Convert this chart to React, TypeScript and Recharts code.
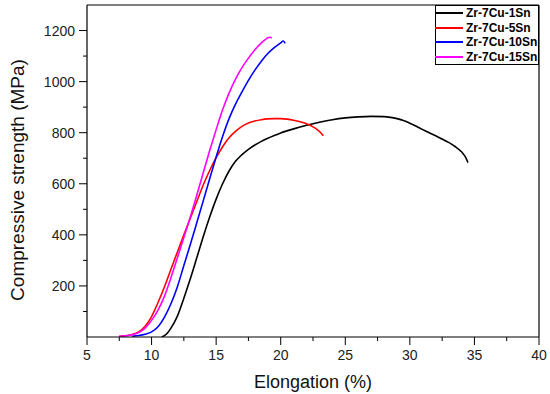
import React from 'react';
import { LineChart, Line, XAxis, YAxis, Legend, ReferenceLine, Label } from 'recharts';

// values (strain %, stress MPa)
const sn1Strain = [10.8, 11.2, 11.5, 12.0, 12.5, 13.0, 13.5, 14.0, 14.5, 15.0, 15.5, 16.0, 16.5, 17.0, 17.5, 18.0, 18.5, 19.0, 19.5, 20.0, 21.0, 22.0, 23.0, 24.0, 25.0, 26.0, 27.0, 28.0, 28.5, 29.0, 29.5, 30.0, 30.5, 31.0, 31.5, 32.0, 32.5, 33.0, 33.5, 34.0, 34.3, 34.5];
const sn1Stress = [0, 14, 35, 82, 152, 228, 310, 393, 470, 540, 600, 650, 688, 714, 735, 752, 766, 778, 789, 799, 815, 829, 841, 851, 858, 862, 864, 863, 860, 855, 848, 837, 825, 812, 800, 788, 775, 762, 746, 725, 705, 683];

const sn5Strain = [7.5, 8.0, 8.5, 9.0, 9.5, 10.0, 10.5, 11.0, 11.5, 12.0, 12.5, 13.0, 13.5, 14.0, 14.5, 15.0, 15.5, 16.0, 16.5, 17.0, 17.5, 18.0, 18.5, 19.0, 19.5, 20.0, 20.5, 21.0, 21.5, 22.0, 22.5, 22.8, 23.1, 23.3];
const sn5Stress = [3, 5, 10, 20, 42, 80, 135, 197, 265, 333, 400, 465, 530, 595, 652, 702, 745, 780, 805, 825, 838, 846, 851, 854, 855, 855, 853, 849, 843, 835, 823, 813, 800, 788];

const sn10Strain = [8.5, 9.0, 9.5, 10.0, 10.5, 11.0, 11.5, 12.0, 12.5, 13.0, 13.5, 14.0, 14.5, 15.0, 15.5, 16.0, 16.5, 17.0, 17.5, 18.0, 18.5, 19.0, 19.5, 20.0, 20.2, 20.35];
const sn10Stress = [3, 6, 11, 20, 40, 78, 130, 197, 280, 362, 447, 533, 620, 705, 785, 855, 912, 960, 1005, 1045, 1080, 1110, 1133, 1152, 1159, 1150];

const sn15Strain = [7.5, 8.0, 8.5, 9.0, 9.5, 10.0, 10.5, 11.0, 11.5, 12.0, 12.5, 13.0, 13.5, 14.0, 14.5, 15.0, 15.5, 16.0, 16.5, 17.0, 17.5, 18.0, 18.5, 18.8, 19.0, 19.2, 19.3];
const sn15Stress = [3, 5, 9, 17, 35, 65, 105, 160, 232, 310, 390, 470, 555, 643, 730, 812, 890, 955, 1010, 1055, 1092, 1125, 1152, 1164, 1172, 1174, 1170];

const xTicks = [5, 7.5, 10, 12.5, 15, 17.5, 20, 22.5, 25, 27.5, 30, 32.5, 35, 37.5, 40];
const yTicks = [100, 200, 300, 400, 500, 600, 700, 800, 900, 1000, 1100, 1200];

const toPoints = (xs: number[], ys: number[]) => xs.map((x, i) => ({ x, y: ys[i] }));

const series = [
  { name: 'Zr-7Cu-1Sn', color: '#000000', data: toPoints(sn1Strain, sn1Stress) },
  { name: 'Zr-7Cu-5Sn', color: '#ff0000', data: toPoints(sn5Strain, sn5Stress) },
  { name: 'Zr-7Cu-10Sn', color: '#0000ff', data: toPoints(sn10Strain, sn10Stress) },
  { name: 'Zr-7Cu-15Sn', color: '#ff00ff', data: toPoints(sn15Strain, sn15Stress) },
];

const FONT = '"Liberation Sans", Arial, sans-serif';

function XTick(props: any) {
  const { x, y, payload } = props;
  const major = payload.value % 5 === 0;
  return (
    <g>
      <line x1={x} y1={y} x2={x} y2={y + (major ? 8 : 4)} stroke="#000" />
      {major && (
        <text x={x} y={y + 23} textAnchor="middle" fontSize={14} fill="#222" fontFamily={FONT}>
          {payload.value}
        </text>
      )}
    </g>
  );
}

function YTick(props: any) {
  const { x, y, payload } = props;
  const major = payload.value % 200 === 0;
  return (
    <g>
      <line x1={x} y1={y} x2={x - (major ? 8 : 4)} y2={y} stroke="#000" />
      {major && (
        <text x={x - 12} y={y + 5} textAnchor="end" fontSize={14} fill="#222" fontFamily={FONT}>
          {payload.value}
        </text>
      )}
    </g>
  );
}

function YTitle(props: any) {
  const { viewBox } = props;
  const cx = viewBox.x + 17;
  const cy = viewBox.y + viewBox.height / 2 + 9;
  return (
    <text x={cx} y={cy} transform={`rotate(-90 ${cx} ${cy})`} textAnchor="middle" dominantBaseline="central"
      fontSize={19} fill="#111" fontFamily={FONT}>
      Compressive strength (MPa)
    </text>
  );
}

function LegendBox() {
  return (
    <div style={{ width: 104, height: 60, border: '1px solid #000', boxSizing: 'border-box', background: '#fff' }}>
      {series.map((s) => (
        <div key={s.name} style={{ display: 'flex', alignItems: 'center', height: 14.6 }}>
          <div style={{ width: 28, borderTop: `2px solid ${s.color}`, marginLeft: -1 }} />
          <span style={{ marginLeft: 3, fontSize: 12, fontWeight: 'bold', fontFamily: FONT, color: '#000', lineHeight: '14px' }}>
            {s.name}
          </span>
        </div>
      ))}
    </div>
  );
}

export default function App() {
  return (
    <div style={{ position: 'absolute', left: 0, top: 0, width: 550, height: 394, background: '#fff' }}>
      <LineChart width={550} height={394} margin={{ top: 5, right: 11, left: 0, bottom: 0 }}>
        <XAxis dataKey="x" type="number" domain={[5, 40]} ticks={xTicks} allowDataOverflow
          tick={<XTick />} tickLine={false} tickSize={0} tickMargin={0} height={57}
          axisLine={{ stroke: '#000', strokeWidth: 1.2 }} interval={0}>
          <Label value="Elongation (%)" position="insideBottom" offset={6}
            style={{ fontSize: 18, fill: '#111', fontFamily: FONT }} />
        </XAxis>
        <YAxis type="number" domain={[0, 1300]} ticks={yTicks} allowDataOverflow
          tick={<YTick />} tickLine={false} tickSize={0} tickMargin={0} width={87}
          axisLine={{ stroke: '#000', strokeWidth: 1.2 }} interval={0}>
          <Label content={<YTitle />} />
        </YAxis>
        <ReferenceLine y={1300} stroke="#000" strokeWidth={1.2} />
        <ReferenceLine x={40} stroke="#000" strokeWidth={1.2} />
        {series.map((s) => (
          <Line key={s.name} data={s.data} dataKey="y" name={s.name} type="monotone" stroke={s.color}
            strokeWidth={1.6} dot={false} isAnimationActive={false} />
        ))}
        <Legend layout="vertical" align="center" verticalAlign="middle" content={<LegendBox />}
          wrapperStyle={{ left: 435, top: 5, right: 'auto', bottom: 'auto', width: 104, height: 60 }} />
      </LineChart>
    </div>
  );
}
